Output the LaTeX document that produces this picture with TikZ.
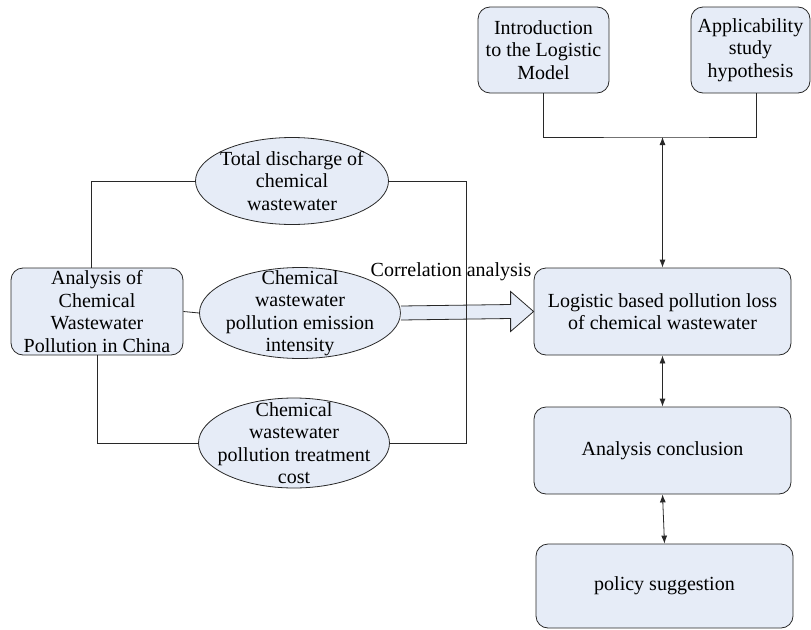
\documentclass[tikz,border=0pt]{standalone}
\usepackage{fontspec}
\setmainfont{Liberation Serif}
\usetikzlibrary{shapes.geometric,arrows.meta}
\definecolor{boxfill}{RGB}{230,236,247}
\definecolor{edge}{RGB}{40,40,40}
\tikzset{
  rbox/.style={draw=edge,line width=0.8pt,fill=boxfill,rounded corners=12pt,align=center,inner sep=0pt},
  ell/.style={draw=edge,line width=0.8pt,fill=boxfill,ellipse,inner sep=0pt},
  txt/.style={align=center,inner sep=0pt,font=\fontsize{20}{22.5}\selectfont},
  conn/.style={draw=edge,line width=0.8pt},
  dbl/.style={conn,{Latex[length=8pt,width=6pt]}-{Latex[length=8pt,width=6pt]}},
  bigarrow/.style={draw=edge,line width=0.8pt,fill=boxfill}
}
\begin{document}
\begin{tikzpicture}[x=1pt,y=-1pt]
\useasboundingbox (0,0) rectangle (811,629);
% left box
\node[rbox,minimum width=172pt,minimum height=87pt] (lb) at (97,311.5) {};
\node[txt] (lbt) at (lb) {Analysis of\\Chemical\\Wastewater\\Pollution in China};
% ellipses
\node[ell,minimum width=193pt,minimum height=87pt] (e1) at (292,181) {};
\node[txt] (e1t) at (e1) {Total discharge of\\chemical\\wastewater};
\node[ell,minimum width=201pt,minimum height=91pt] (e2) at (300,313) {};
\node[txt] (e2t) at (e2) {Chemical\\wastewater\\pollution emission\\intensity};
\node[ell,minimum width=191pt,minimum height=90pt] (e3) at (294,443) {};
\node[txt] (e3t) at (e3) {Chemical\\wastewater\\pollution treatment\\cost};
% right column
\node[rbox,minimum width=131pt,minimum height=86pt] (in) at (543.5,50) {};
\node[txt] (int) at (in) {Introduction\\to the Logistic\\Model};
\node[rbox,minimum width=119pt,minimum height=86pt] (ap) at (750.5,50) {};
\node[txt] (apt) at (ap) {Applicability\\study\\hypothesis};
\node[rbox,minimum width=257pt,minimum height=87pt] (lg) at (662.5,311.5) {};
\node[txt] (lgt) at (lg) {Logistic based pollution loss\\of chemical wastewater};
\node[rbox,minimum width=257pt,minimum height=87pt] (ac) at (662.5,450.5) {};
\node[txt] (act) at (ac) {Analysis conclusion};
\node[rbox,minimum width=257pt,minimum height=84pt] (po) at (664.5,586) {};
\node[txt] (pot) at (po) {policy suggestion};
% big arrow
\draw[bigarrow] ([yshift=7pt]e2.east) -- ([xshift=-23pt,yshift=7pt]lg.west)
  -- ([xshift=-23pt,yshift=20pt]lg.west) -- (lg.west)
  -- ([xshift=-23pt,yshift=-20pt]lg.west) -- ([xshift=-23pt,yshift=-7pt]lg.west)
  -- ([yshift=-7pt]e2.east);
\node[txt,anchor=south] (corr) at (451,281) {Correlation analysis};
% connectors left
\draw[conn] ([xshift=81pt]lb.north west) |- (e1.west);
\draw[conn] ([xshift=87pt]lb.south west) |- (e3.west);
\draw[conn] (lb.east) -- (e2.west);
\draw[conn] (e1.east) -- ++(77,0) |- (e3.east);
% connectors right
\coordinate (j) at (662.5,137);
\draw[conn] (in.south) |- (j) -| ([xshift=6pt]ap.south);
\draw[dbl] (j) -- (lg.north);
\draw[dbl] (lg.south) -- (ac.north);
\draw[dbl] (ac.south) -- (po.north);
\end{tikzpicture}
\end{document}
